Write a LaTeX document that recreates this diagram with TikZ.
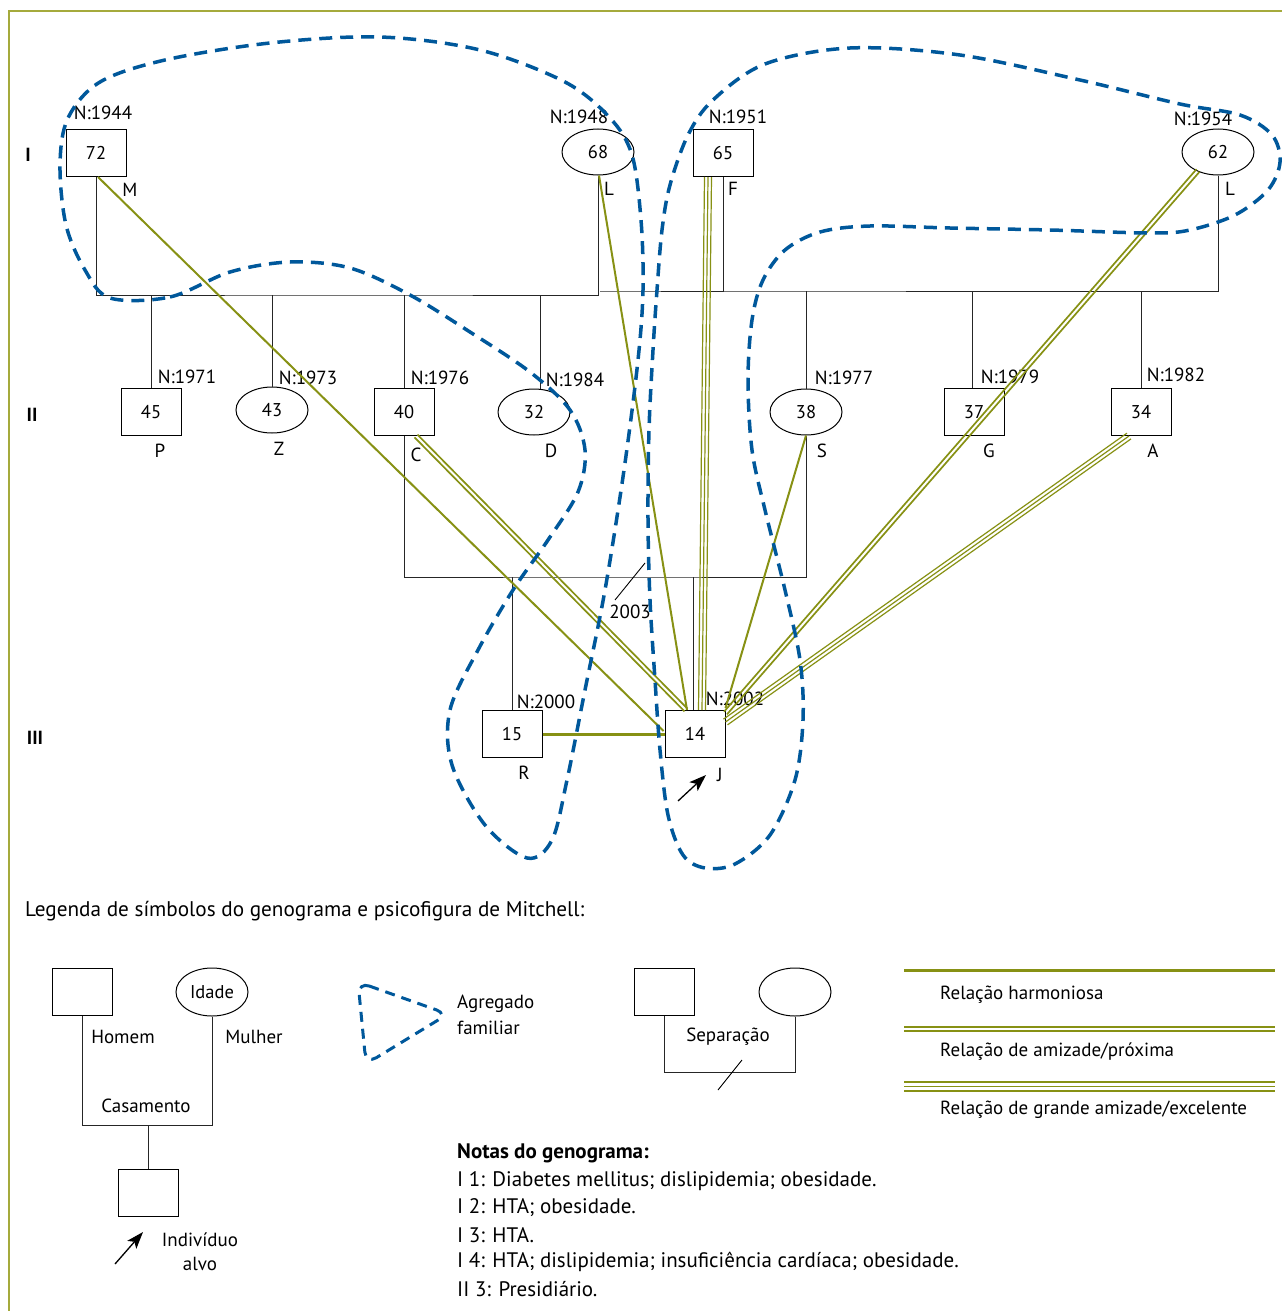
\documentclass[tikz,border=0pt]{standalone}
\usepackage{fontspec}
\setmainfont{PT Sans}
\usetikzlibrary{calc,arrows.meta,shapes.geometric}
\definecolor{relcol}{RGB}{135,145,20}
\definecolor{framecol}{RGB}{165,170,60}
\definecolor{famblue}{RGB}{0,88,155}
\begin{document}
\begin{tikzpicture}[x=1pt,y=-1pt,
  male/.style={draw, line width=1pt, minimum width=60pt, minimum height=47pt, inner sep=0pt, font=\fontsize{18.5}{22}\selectfont},
  female/.style={draw, ellipse, line width=1pt, minimum width=72pt, minimum height=46pt, inner sep=0pt, font=\fontsize{18.5}{22}\selectfont},
  lbl/.style={inner sep=0pt, font=\fontsize{19}{22}\selectfont},
  gen/.style={inner sep=0pt, font=\fontsize{19}{22}\selectfont\bfseries},
  leg/.style={inner sep=0pt, font=\fontsize{19}{23}\selectfont},
  note/.style={inner sep=0pt, anchor=west, font=\fontsize{21}{25}\selectfont},
  kin/.style={line width=1pt, black!85},
  rel/.style={relcol, line width=2pt},
  reltwo/.style={relcol, line width=1.7pt},
  relthree/.style={relcol, line width=1.2pt},
  fam/.style={famblue, line width=3.5pt, dash pattern=on 13pt off 8pt},
  pointer/.style={line width=1.3pt, -{Stealth[length=17pt,width=12pt,inset=4pt]}}
]
\useasboundingbox (0,0) rectangle (1282,1311);
% frame
\draw[framecol, line width=2pt] (9,1311) -- (9,11) -- (1282,11);

% generation labels
\node[gen] (gI) at (28,155) {I};
\node[gen] (gII) at (32,415) {II};
\node[gen] (gIII) at (35,738) {III};

% generation I
\node[male] (n72) at (96,153) {72};
\node[female] (n68) at (598,152) {68};
\node[male] (n65) at (723,153) {65};
\node[female] (n62) at (1218,152) {62};
% generation II
\node[male] (n45) at (151,412) {45};
\node[female] (n43) at (272,410) {43};
\node[male] (n40) at (404,412) {40};
\node[female] (n32) at (534,412) {32};
\node[female] (n38) at (806,412) {38};
\node[male] (n37) at (974,412) {37};
\node[male] (n34) at (1141,412) {34};
% generation III
\node[male] (n15) at (512,734) {15};
\node[male] (n14) at (695,734) {14};

% labels
\node[lbl] (t72) at (103,113) {N:1944};
\node[lbl] (l72) at (130,190) {M};
\node[lbl] (t68) at (579,117) {N:1948};
\node[lbl] (l68) at (609,189) {L};
\node[lbl] (t65) at (738,117) {N:1951};
\node[lbl] (l65) at (733,189) {F};
\node[lbl] (t62) at (1203,119) {N:1954};
\node[lbl] (l62) at (1230,189) {L};
\node[lbl] (t45) at (187,377) {N:1971};
\node[lbl] (l45) at (160,451) {P};
\node[lbl] (t43) at (308,378) {N:1973};
\node[lbl] (l43) at (279,449) {Z};
\node[lbl] (t40) at (440,378) {N:1976};
\node[lbl] (l40) at (416,455) {C};
\node[lbl] (t32) at (575,380) {N:1984};
\node[lbl] (l32) at (551,451) {D};
\node[lbl] (t38) at (844,378) {N:1977};
\node[lbl] (l38) at (822,451) {S};
\node[lbl] (t37) at (1010,377) {N:1979};
\node[lbl] (l37) at (989,451) {G};
\node[lbl] (t34) at (1176,375) {N:1982};
\node[lbl] (l34) at (1153,451) {A};
\node[lbl] (t15) at (546,702) {N:2000};
\node[lbl] (l15) at (524,773) {R};
\node[lbl] (t14) at (735,699) {N:2002};
\node[lbl] (l14) at (720,775) {J};
\node[lbl] (t2003) at (630,612) {2003};

% kinship lines
\coordinate (m1) at (350,295);
\coordinate (m2) at (600,291);
\coordinate (m3) at (600,577);
\draw[kin] (n72.south) |- (m1) -| (n68.south);
\draw[kin] (n65.south) |- (m2) -| (n62.south);
\coordinate (d32) at ($(n32.north)+(6,0.5)$);
\draw[kin] (n45.north) -- (n45.north |- m1);
\draw[kin] (n43.north) -- (n43.north |- m1);
\draw[kin] (n40.north) -- (n40.north |- m1);
\draw[kin] (d32) -- (d32 |- m1);
\draw[kin] (n38.north) -- (n38.north |- m2);
\coordinate (d37) at ($(n37.north)+(-2,0)$);
\draw[kin] (d37) -- (d37 |- m2);
\draw[kin] (n34.north) -- (n34.north |- m2);
\draw[kin] (n40.south) |- (m3) -| (n38.south);
\coordinate (d14) at ($(n14.north)+(-2,0)$);
\draw[kin] (n15.north) -- (n15.north |- m3);
\draw[kin] (d14) -- (d14 |- m3);
\coordinate (sepA) at (615,600);
\coordinate (sepB) at (645,563);
\draw[line width=0.9pt] (sepA) -- (sepB);

% relationship endpoints
\coordinate (a72) at ($(n72.south)+(2,0)$);
\coordinate (b72) at ($(n14.west)+(-1,-3)$);
\coordinate (a40) at ($(n40.south)+(12,0)$);
\coordinate (b40) at ($(n14.north)+(-9,0)$);
\coordinate (a68) at ($(n68.south)+(1,0)$);
\coordinate (b68) at ($(n14.north)+(-8,0)$);
\coordinate (a65) at ($(n65.south)+(-15,0)$);
\coordinate (b65) at ($(n14.north)+(7,0)$);
\coordinate (a38) at (n38.south);
\coordinate (b38) at ($(n14.north east)+(0,-2)$);
\coordinate (a62) at ($(n62.south)+(-20,-5)$);
\coordinate (b62) at ($(n14.north east)+(0,3)$);
\coordinate (a34) at ($(n34.south)+(-12,0)$);
\coordinate (b34) at ($(n14.east)+(0,-12)$);

\draw[rel] (a72) -- (b72);
\draw[rel] (a68) -- (b68);
\draw[rel] (a38) -- (b38);
\draw[rel, line width=3pt] (n15.east) -- (n14.west);
\foreach \o in {-2,2} {
  \draw[reltwo] ($(a40)!\o pt!90:(b40)$) -- ($(b40)!\o pt!-90:(a40)$);
  \draw[reltwo] ($(a62)!\o pt!90:(b62)$) -- ($(b62)!\o pt!-90:(a62)$);
}
\foreach \o in {-3.5,0,3.5} {
  \draw[relthree] ($(a65)!\o pt!90:(b65)$) -- ($(b65)!\o pt!-90:(a65)$);
  \draw[relthree] ($(a34)!\o pt!90:(b34)$) -- ($(b34)!\o pt!-90:(a34)$);
}

% target arrow
\coordinate (arA) at (678,801);
\coordinate (arB) at (706,775);
\draw[pointer] (arA) -- (arB);

% family aggregates
\draw[fam] plot[smooth cycle, tension=0.55] coordinates {
 (110,298) (170,297) (230,272) (290,262) (350,268) (410,295) (470,332) (530,372)
 (570,410) (585,450) (578,492) (548,540) (513,590) (478,650) (450,710) (452,765)
 (485,825) (527,858) (552,840) (567,780) (585,690) (605,590) (624,470) (638,360)
 (643,290) (641,220) (632,155) (610,118) (565,82) (480,50) (380,37) (270,43)
 (165,60) (100,82) (68,118) (60,165) (66,225) (85,270)};
\draw[fam] plot[smooth cycle, tension=0.55] coordinates {
 (713,100) (765,64) (850,48) (960,55) (1080,80) (1180,104) (1240,115) (1272,135)
 (1280,162) (1268,190) (1235,215) (1190,230) (1150,233) (1050,230) (950,228)
 (870,226) (820,232) (785,250) (763,280) (752,320) (748,380) (752,450) (765,510)
 (785,590) (800,660) (803,720) (795,780) (770,835) (735,864) (705,868) (683,855)
 (668,815) (660,750) (655,680) (650,600) (648,520) (649,430) (653,350) (657,290)
 (662,230) (670,185) (688,135)};

% ---------------- legend ----------------
\node[note, font=\fontsize{21.2}{25}\selectfont] (legtitle) at (25,911) {Legenda de símbolos do genograma e psicofigura de Mitchell:};

\node[male] (lm) at (82,992) {};
\node[female, minimum height=48pt] (lf) at (212,992) {Idade};
\node[male] (lc) at (148,1193) {};
\coordinate (lmar) at (147,1125);
\draw[kin] (lm.south) |- (lmar) -| (lf.south);
\draw[kin] (lc.north) -- (lc.north |- lmar);
\node[leg] (lhom) at (123,1037) {Homem};
\node[leg] (lmul) at (254,1037) {Mulher};
\node[leg] (lcas) at (146,1106) {Casamento};
\node[leg] (lind) at (200,1240) {Indivíduo};
\node[leg] (lalv) at (200,1264) {alvo};
\coordinate (larA) at (115,1264);
\coordinate (larB) at (143,1232);
\draw[pointer] (larA) -- (larB);

\draw[fam, line width=3pt, dash pattern=on 10pt off 7pt, rounded corners=12pt] (358,982) -- (448,1014) -- (366,1064) -- cycle;
\node[leg, anchor=west] (lagr) at (457,1004) {Agregado};
\node[leg, anchor=west] (lfam) at (457,1028) {familiar};

\node[male] (sm) at (664,992) {};
\node[female, minimum height=48pt] (sf) at (795,992) {};
\coordinate (smar) at (730,1072);
\draw[kin] (sm.south) |- (smar) -| (sf.south);
\coordinate (ssA) at (718,1090);
\coordinate (ssB) at (742,1060);
\draw[line width=0.9pt] (ssA) -- (ssB);
\node[leg] (lsep) at (728,1037) {Separação};

\coordinate (r1a) at (904,970);  \coordinate (r1b) at (1275,970);
\draw[relcol, line width=3pt] (r1a) -- (r1b);
\coordinate (r2a) at (904,1026.5); \coordinate (r2b) at (1275,1026.5);
\coordinate (r2c) at (904,1031);   \coordinate (r2d) at (1275,1031);
\draw[relcol, line width=2pt] (r2a) -- (r2b);
\draw[relcol, line width=2pt] (r2c) -- (r2d);
\coordinate (r3a) at (904,1082); \coordinate (r3b) at (1275,1082);
\coordinate (r3c) at (904,1086.5); \coordinate (r3d) at (1275,1086.5);
\coordinate (r3e) at (904,1091); \coordinate (r3f) at (1275,1091);
\draw[relcol, line width=1.5pt] (r3a) -- (r3b);
\draw[relcol, line width=1.5pt] (r3c) -- (r3d);
\draw[relcol, line width=1.5pt] (r3e) -- (r3f);
\node[leg, anchor=west] (lr1) at (940,995) {Relação harmoniosa};
\node[leg, anchor=west] (lr2) at (940,1052) {Relação de amizade/próxima};
\node[leg, anchor=west] (lr3) at (940,1110) {Relação de grande amizade/excelente};

% notes
\node[note, font=\fontsize{21}{25}\selectfont\bfseries] (nt0) at (457,1153) {Notas do genograma:};
\node[note] (nt1) at (457,1181) {I 1: Diabetes mellitus; dislipidemia; obesidade.};
\node[note] (nt2) at (457,1208) {I 2: HTA; obesidade.};
\node[note] (nt3) at (457,1235) {I 3: HTA.};
\node[note] (nt4) at (457,1262) {I 4: HTA; dislipidemia; insuficiência cardíaca; obesidade.};
\node[note] (nt5) at (457,1289) {II 3: Presidiário.};
\end{tikzpicture}
\end{document}
